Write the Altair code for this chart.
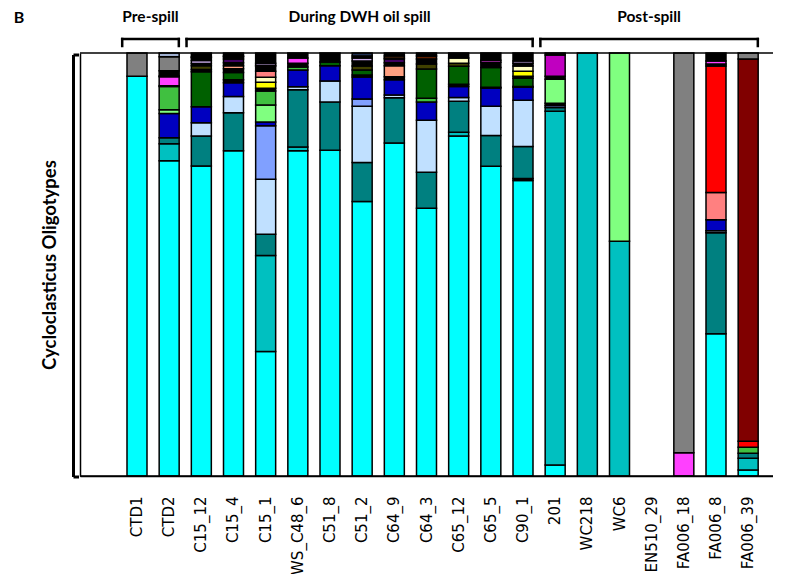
import altair as alt
import pandas as pd

samples = ["CTD1", "CTD2", "C15_12", "C15_4", "C15_1", "WS_C48_6", "C51_8", "C51_2",
           "C64_9", "C64_3", "C65_12", "C65_5", "C90_1", "201", "WC218", "WC6",
           "EN510_29", "FA006_18", "FA006_8", "FA006_39"]

# oligotype ids and their colours
olig_ids = ["cy", "tc", "te", "lb", "pw", "bl", "lg", "gr", "dg", "ol", "ye", "ly", "ls",
            "sa", "re", "dr", "ma", "pu", "dp", "lv", "br", "br2", "nv", "gy", "st", "bk"]
olig_colors = ["#00FFFF", "#00C0C0", "#008080", "#C0E0FF", "#80A0FF", "#0000C0", "#80FF80",
               "#40C040", "#006000", "#404000", "#FFFF00", "#FFFFC0", "#FFA080", "#FF8080",
               "#FF0000", "#800000", "#FF40FF", "#C000C0", "#400060", "#D0B0F0", "#C06020",
               "#602000", "#203050", "#808080", "#A0B0D0", "#000000"]

# relative abundance (%) of oligotypes per sample, listed bottom -> top
CTD1 = [("cy", 94.5), ("gy", 5.5)]
CTD2 = [("cy", 74.4), ("tc", 4.0), ("te", 1.4), ("bl", 5.7), ("lg", 0.9), ("gr", 5.5),
        ("bk", 0.2), ("ma", 2.1), ("dp", 0.2), ("bk", 1.2), ("gy", 3.3), ("st", 0.9)]
C15_12 = [("cy", 73.2), ("te", 7.1), ("lb", 3.1), ("bl", 3.8), ("dg", 8.3), ("bk", 0.5),
          ("ol", 0.9), ("bk", 0.5), ("lv", 0.7), ("bk", 0.7), ("pu", 0.2), ("bk", 0.9)]
C15_4 = [("cy", 76.8), ("te", 9.0), ("lb", 3.8), ("bl", 3.3), ("bk", 0.7), ("dg", 1.7),
         ("bk", 0.9), ("ls", 0.7), ("bk", 0.7), ("dp", 0.9), ("bk", 0.5), ("tc", 0.2), ("bk", 0.7)]
C15_1 = [("cy", 29.4), ("tc", 22.7), ("te", 5.0), ("lb", 13.0), ("pw", 12.6), ("bl", 0.9),
         ("lg", 4.0), ("gr", 3.3), ("bk", 0.7), ("ye", 1.4), ("ly", 1.2), ("sa", 1.4),
         ("bk", 1.2), ("dr", 0.2), ("lv", 0.5), ("bk", 2.4)]
WS_C48_6 = [("cy", 76.8), ("tc", 0.9), ("te", 13.5), ("lb", 0.7), ("bl", 4.0), ("gr", 0.7),
            ("bk", 0.9), ("ma", 1.2), ("bk", 1.2)]
C51_8 = [("cy", 77.0), ("te", 11.4), ("lb", 5.0), ("bl", 3.6), ("dg", 0.9), ("bk", 2.1)]
C51_2 = [("cy", 64.9), ("te", 9.2), ("lb", 13.3), ("pw", 1.7), ("bl", 5.2), ("bk", 0.5),
         ("dg", 1.2), ("ol", 0.9), ("bk", 1.2), ("lv", 0.7), ("bk", 0.5), ("nv", 0.7)]
C64_9 = [("cy", 78.7), ("te", 10.7), ("lb", 0.7), ("bl", 3.6), ("bk", 0.7), ("ls", 2.6),
         ("bk", 0.7), ("dp", 0.9), ("bk", 0.2), ("br", 0.5), ("bk", 0.7)]
C64_3 = [("cy", 63.3), ("te", 8.5), ("lb", 12.3), ("bl", 4.3), ("gr", 0.9), ("dg", 6.9),
         ("ol", 1.2), ("bk", 1.2), ("br2", 0.7), ("bk", 0.7)]
C65_12 = [("cy", 80.3), ("tc", 0.9), ("te", 7.3), ("lb", 0.9), ("bl", 2.6), ("bk", 0.5),
          ("dg", 4.3), ("ol", 0.7), ("ly", 1.2), ("bk", 1.2)]
C65_5 = [("cy", 73.2), ("te", 7.3), ("lb", 6.9), ("bl", 4.3), ("bk", 0.2), ("dg", 4.7),
         ("bk", 1.2), ("ma", 0.5), ("bk", 1.7)]
C90_1 = [("cy", 69.9), ("bk", 0.5), ("te", 7.6), ("lb", 10.9), ("bl", 3.1), ("bk", 0.2),
         ("dg", 1.9), ("bk", 0.5), ("ye", 1.2), ("ly", 1.2), ("bk", 0.7), ("lv", 0.5), ("bk", 1.9)]
S201 = [("cy", 2.6), ("tc", 83.6), ("te", 0.9), ("pw", 0.5), ("bk", 0.5), ("lg", 5.7),
        ("bk", 0.7), ("pu", 5.0), ("bk", 0.5)]
WC218 = [("tc", 100.0)]
WC6 = [("tc", 55.5), ("lg", 44.5)]
EN510_29 = []
FA006_18 = [("ma", 5.5), ("gy", 94.5)]
FA006_8 = [("cy", 33.6), ("te", 23.9), ("lb", 0.5), ("bl", 2.6), ("sa", 6.4), ("re", 29.9),
           ("bk", 0.5), ("ma", 0.7), ("bk", 1.9)]
FA006_39 = [("cy", 1.4), ("tc", 2.8), ("te", 1.2), ("gr", 1.4), ("re", 1.4), ("dr", 90.3), ("gy", 1.4)]

compositions = [CTD1, CTD2, C15_12, C15_4, C15_1, WS_C48_6, C51_8, C51_2, C64_9, C64_3,
                C65_12, C65_5, C90_1, S201, WC218, WC6, EN510_29, FA006_18, FA006_8, FA006_39]

groups = ["Pre-spill", "During DWH oil spill", "Post-spill"]
group_first = [0, 2, 13]
group_last = [1, 12, 19]

rows = []
for i, (s, comp) in enumerate(zip(samples, compositions)):
    for k, (o, v) in enumerate(comp):
        rows.append({"sample": s, "idx": i, "olig": o, "value": v, "pos": k})
df = pd.DataFrame(rows)

gdf = pd.DataFrame({
    "group": groups,
    "bstart": [f - 0.46 for f in group_first],
    "bend": [l + 0.3 for l in group_last],
})
gdf["mid"] = (gdf["bstart"] + gdf["bend"]) / 2

W, H = 693, 423
PAD_OUT = 0.272
n_dom = len(samples) + 1  # one empty leading slot
step = W / (n_dom + 2 * PAD_OUT)
q0 = -(PAD_OUT + 1.5)
q1 = q0 + W / step
qscale = alt.Scale(domain=[q0, q1], nice=False, zero=False)

bars = alt.Chart(df).mark_bar(size=20, stroke="black", strokeWidth=1.5).encode(
    x=alt.X("sample:N",
            scale=alt.Scale(domain=[" "] + samples, paddingInner=0, paddingOuter=PAD_OUT),
            axis=alt.Axis(title=None, ticks=False, grid=False, domainColor="black",
                          domainWidth=1.5, labelFont="DejaVu Sans", labelFontSize=15,
                          labelColor="black", labelAngle=270, labelPadding=20,
                          labelOverlap=False)),
    y=alt.Y("value:Q", stack="normalize", scale=alt.Scale(domain=[0, 1], nice=False),
            axis=alt.Axis(title="Cycloclasticus Oligotypes", labels=False, ticks=False,
                          grid=False, domainColor="black", domainWidth=1.5,
                          titleFont="Lato", titleFontSize=18.5, titleFontWeight="bold",
                          titleColor="black", titlePadding=21)),
    color=alt.Color("olig:N", scale=alt.Scale(domain=olig_ids, range=olig_colors), legend=None),
    order=alt.Order("pos:Q", sort="ascending"),
)

one = pd.DataFrame({"a": [0]})
top_line = alt.Chart(one).mark_rule(color="black", strokeWidth=1.5).encode(
    x=alt.value(0), x2=alt.value(704), y=alt.value(0))
bottom_line = alt.Chart(one).mark_rule(color="black", strokeWidth=1.5).encode(
    x=alt.value(0), x2=alt.value(704), y=alt.value(H))

lb_v = alt.Chart(one).mark_rule(color="black", strokeWidth=3).encode(
    x=alt.value(-6.5), y=alt.value(2), y2=alt.value(424))
lb_t = alt.Chart(one).mark_rule(color="black", strokeWidth=3).encode(
    x=alt.value(-6.5), x2=alt.value(-1), y=alt.value(2))
lb_b = alt.Chart(one).mark_rule(color="black", strokeWidth=3).encode(
    x=alt.value(-6.5), x2=alt.value(-1), y=alt.value(424))

gbase = alt.Chart(gdf)
g_h = gbase.mark_rule(color="black", strokeWidth=2.5, strokeCap="square").encode(
    x=alt.X("bstart:Q", scale=qscale, axis=None), x2="bend:Q", y=alt.value(-14))
g_l = gbase.mark_rule(color="black", strokeWidth=2.5, strokeCap="square").encode(
    x=alt.X("bstart:Q", scale=qscale, axis=None), y=alt.value(-14), y2=alt.value(-7))
g_r = gbase.mark_rule(color="black", strokeWidth=2.5, strokeCap="square").encode(
    x=alt.X("bend:Q", scale=qscale, axis=None), y=alt.value(-14), y2=alt.value(-7))
g_t = gbase.mark_text(font="Lato", fontSize=15.5, fontWeight="bold", color="black",
                      baseline="middle", align="center").encode(
    x=alt.X("mid:Q", scale=qscale, axis=None), y=alt.value(-36), text="group:N")

panel = alt.Chart(one).mark_text(text="B", font="Lato", fontSize=16, fontWeight="bold",
                                 color="black", baseline="middle", align="center").encode(
    x=alt.value(-61), y=alt.value(-35))

chart = alt.layer(bars, top_line, bottom_line, lb_v, lb_t, lb_b, g_h, g_l, g_r, g_t, panel).resolve_scale(
    x="independent").resolve_axis(x="independent").properties(
    width=W, height=H,
    autosize=alt.AutoSizeParams(type="none"),
    padding={"left": 72, "top": 45, "right": 0, "bottom": 98},
).configure_view(stroke="transparent")

chart.save("out.html", embed_options={"renderer": "svg", "actions": False})
